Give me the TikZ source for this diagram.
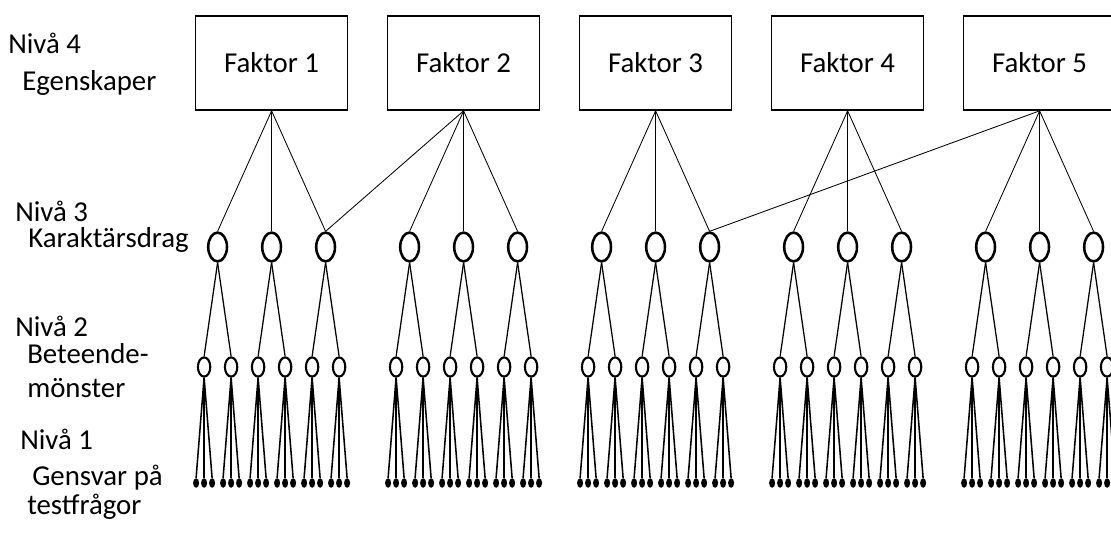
\documentclass[tikz,border=0pt]{standalone}
\usepackage{fontspec}
\setmainfont{Carlito}
\usetikzlibrary{shapes.geometric}
\begin{document}
\begin{tikzpicture}[
  faktor/.style={draw,line width=1.2pt,minimum width=3.8cm,minimum height=2.35cm,
    font=\fontsize{20.5}{24}\selectfont},
  drag/.style={draw,ellipse,line width=1.8pt,minimum width=0.47cm,minimum height=0.72cm,inner sep=0pt},
  monster/.style={draw,ellipse,line width=1.5pt,minimum width=0.31cm,minimum height=0.48cm,inner sep=0pt},
  svar/.style={fill,ellipse,minimum width=0.15cm,minimum height=0.24cm,inner sep=0pt},
  niva/.style={anchor=base west,inner sep=0pt,font=\fontsize{20.5}{24}\selectfont},
  gren3/.style={line width=0.6pt},
  gren2/.style={line width=0.9pt},
  gren1/.style={line width=1.1pt}]
\clip (0,0) rectangle (27.775,13.95);

\node[niva] (n4) at (0.2,12.6) {Nivå 4};
\node[niva] (n4b) at (0.55,11.675) {Egenskaper};
\node[niva] (n3) at (0.375,8.4) {Nivå 3};
\node[niva] (n3b) at (0.7,7.75) {Karaktärsdrag};
\node[niva] (n2) at (0.375,5.525) {Nivå 2};
\node[niva] (n2b) at (0.675,4.85) {Beteende-};
\node[niva] (n2c) at (0.675,4.0) {mönster};
\node[niva] (n1) at (0.5,2.7) {Nivå 1};
\node[niva] (n1b) at (0.8,1.8) {Gensvar på};
\node[niva] (n1c) at (0.675,1.075) {testfrågor};

\foreach \g in {1,...,5}{
  \pgfmathsetmacro{\fx}{6.79+4.8*(\g-1)}
  \node[faktor] (f\g) at (\fx,12.375) {Faktor \g};
  \foreach \j in {1,2,3}{
    \pgfmathsetmacro{\tx}{\fx+1.35*(\j-2)}
    \node[drag] (t\g\j) at (\tx,7.775) {};
    \draw[gren3] (f\g.south) -- (t\g\j.north);
    \foreach \b in {1,2}{
      \pgfmathsetmacro{\bx}{\tx+0.675*(\b-1.5)}
      \node[monster] (b\g\j\b) at (\bx,4.775) {};
      \draw[gren2] (t\g\j.south) -- (b\g\j\b.north);
      \foreach \r in {1,2,3}{
        \node[svar] (r\g\j\b\r) at (\bx+0.2*\r-0.4,1.875) {};
        \draw[gren1] (b\g\j\b.south) -- (r\g\j\b\r.north);
      }
    }
  }
}

\draw[gren3] (f2.south) -- (t13.north);
\draw[gren3] (f5.south) -- (t33.north);
\end{tikzpicture}
\end{document}
